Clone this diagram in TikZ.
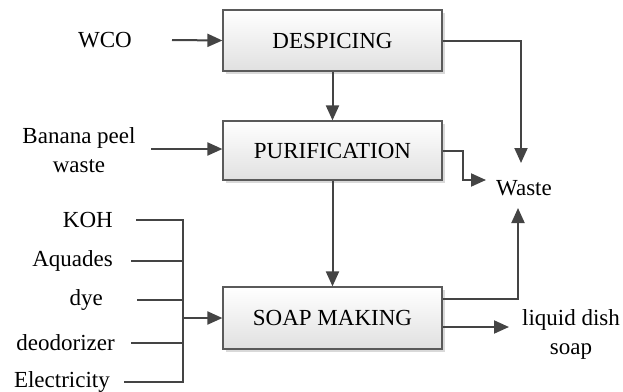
\documentclass[tikz,border=0pt]{standalone}
\usepackage{fontspec}
\setmainfont{Liberation Serif}
\usetikzlibrary{arrows.meta,shadows}
\definecolor{lineC}{HTML}{444444}
\definecolor{boxC}{HTML}{5A5A5A}
\begin{document}
\begin{tikzpicture}[x=1pt,y=-1pt,
  font=\fontsize{23}{29}\selectfont,
  procbox/.style={draw=boxC,line width=1.2pt,rectangle,minimum width=219pt,
    top color=white,bottom color=black!12,
    drop shadow={shadow xshift=3pt,shadow yshift=-3pt,fill=black!15,opacity=1}},
  conn/.style={draw=lineC,line width=2pt},
  arr/.style={conn,-{Triangle[length=15pt,width=13pt]}},
  lbl/.style={inner sep=0pt,text=black}]
\useasboundingbox (0,0) rectangle (623,391);
% process boxes
\node[procbox,minimum height=61pt] (desp) at (332.5,40.5) {DESPICING};
\node[procbox,minimum height=59pt] (puri) at (332.5,150.5) {PURIFICATION};
\node[procbox,minimum height=62pt] (soap) at (332.5,318) {SOAP MAKING};
% inputs
\node[lbl] (wco) at (105,40) {WCO};
\node[lbl,align=center] (banana) at (79,150) {Banana peel\\waste};
\node[lbl,anchor=east] (koh) at (113,220) {KOH};
\node[lbl,anchor=east] (aqua) at (113,261) {Aquades};
\node[lbl,anchor=east] (dye) at (103,300) {dye};
\node[lbl,anchor=east] (deo) at (115,343) {deodorizer};
\node[lbl,anchor=east] (elec) at (110,382) {Electricity};
% outputs
\node[lbl] (waste) at (524,188) {Waste};
\node[lbl,align=center] (liquid) at (571,334) {liquid dish\\soap};
% free ends
\coordinate (wcoS) at (172,40);
\coordinate (banS) at (151,149);
\coordinate (kohS) at (136,220);
\coordinate (aquaS) at (131,261);
\coordinate (dyeS) at (137,300);
\coordinate (deoS) at (131,343);
\coordinate (elecS) at (124,382);
\coordinate (bus) at (183,318);
\coordinate (wT1) at (521,163);
\coordinate (wT2) at (486,180);
\coordinate (wT3) at (518,208);
\coordinate (liqT) at (509,327);
% connectors
\draw[arr] (wcoS) -- (desp.west);
\draw[arr] (banS) -- (puri.west |- banS);
\draw[arr] (desp.south) -- (puri.north);
\draw[arr] (puri.south) -- (soap.north);
\draw[conn] (kohS) -- (kohS -| bus) -- (elecS -| bus) -- (elecS);
\draw[conn] (aquaS) -- (aquaS -| bus);
\draw[conn] (dyeS) -- (dyeS -| bus);
\draw[conn] (deoS) -- (deoS -| bus);
\draw[arr] (bus) -- (soap.west);
\draw[arr] (desp.east) -| (wT1);
\draw[arr] (puri.east) -- (463,150.5) |- (wT2);
\draw[arr] ([yshift=19pt]soap.east) -| (wT3);
\draw[arr] (soap.east |- liqT) -- (liqT);
\end{tikzpicture}
\end{document}
